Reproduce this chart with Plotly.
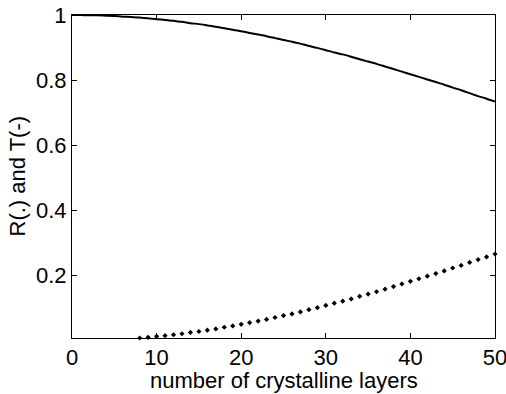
import plotly.graph_objects as go

# Transmission T (solid line), layers 0..50
layers_T = list(range(0, 51))
T_values = [1.000, 1.000, 0.999, 0.999, 0.998, 0.997, 0.995, 0.994, 0.992, 0.990,
            0.987, 0.985, 0.982, 0.979, 0.975, 0.972, 0.968, 0.964, 0.959, 0.955,
            0.950, 0.945, 0.940, 0.935, 0.929, 0.923, 0.918, 0.912, 0.905, 0.899,
            0.892, 0.885, 0.879, 0.872, 0.864, 0.857, 0.850, 0.842, 0.834, 0.826,
            0.818, 0.810, 0.802, 0.794, 0.786, 0.777, 0.769, 0.760, 0.751, 0.743,
            0.734]

# Reflection R (dots), layers 8..50
layers_R = list(range(8, 51))
R_values = [0.008, 0.010, 0.013, 0.015, 0.018, 0.021, 0.025, 0.028, 0.032, 0.036,
            0.041, 0.045, 0.050, 0.055, 0.060, 0.065, 0.071, 0.077, 0.082, 0.088,
            0.095, 0.101, 0.108, 0.115, 0.121, 0.128, 0.136, 0.143, 0.150, 0.158,
            0.166, 0.174, 0.182, 0.190, 0.198, 0.206, 0.214, 0.223, 0.231, 0.240,
            0.249, 0.257, 0.266]

x_ticks = [0, 10, 20, 30, 40, 50]
y_ticks = [0.2, 0.4, 0.6, 0.8, 1]
x_title = "number of crystalline layers"
y_title = "R(.) and T(-)"

font_family = "Liberation Sans, Arial, sans-serif"
fs = 22

fig = go.Figure()
fig.add_trace(go.Scatter(x=layers_T, y=T_values, mode="lines",
                         line=dict(color="black", width=2, shape="spline", smoothing=0.6),
                         showlegend=False))
fig.add_trace(go.Scatter(x=layers_R, y=R_values, mode="markers",
                         marker=dict(color="black", size=4, symbol="diamond"),
                         cliponaxis=False, showlegend=False))

axis_common = dict(showgrid=False, zeroline=False, showline=True, linecolor="black",
                   linewidth=1, mirror="ticks", ticks="inside", ticklen=5,
                   tickcolor="black", automargin=False, ticklabeloverflow="allow",
                   tickfont=dict(family=font_family, size=fs, color="black"))

fig.update_layout(
    width=506, height=394,
    margin=dict(l=72, r=11, t=15, b=56),
    paper_bgcolor="white", plot_bgcolor="white",
    font=dict(family=font_family, size=fs, color="black"),
    xaxis=dict(range=[0, 50], tickvals=x_ticks, ticktext=[str(v) for v in x_ticks],
               **axis_common),
    yaxis=dict(range=[0.008, 1], tickvals=y_ticks, ticktext=["0.2", "0.4", "0.6", "0.8", "1"],
               **axis_common),
    annotations=[
        dict(text=x_title, xref="paper", yref="paper", x=0.5, y=0, yshift=-42,
             xanchor="center", yanchor="middle", showarrow=False,
             font=dict(family=font_family, size=fs, color="black")),
        dict(text=y_title, xref="paper", yref="paper", x=0, y=0.5, xshift=-55,
             xanchor="center", yanchor="middle", textangle=-90, showarrow=False,
             font=dict(family=font_family, size=fs, color="black")),
    ],
)

fig.write_html("out.html", config={"displayModeBar": False},
               post_script="document.body.style.margin='0';document.body.style.overflow='hidden';")
